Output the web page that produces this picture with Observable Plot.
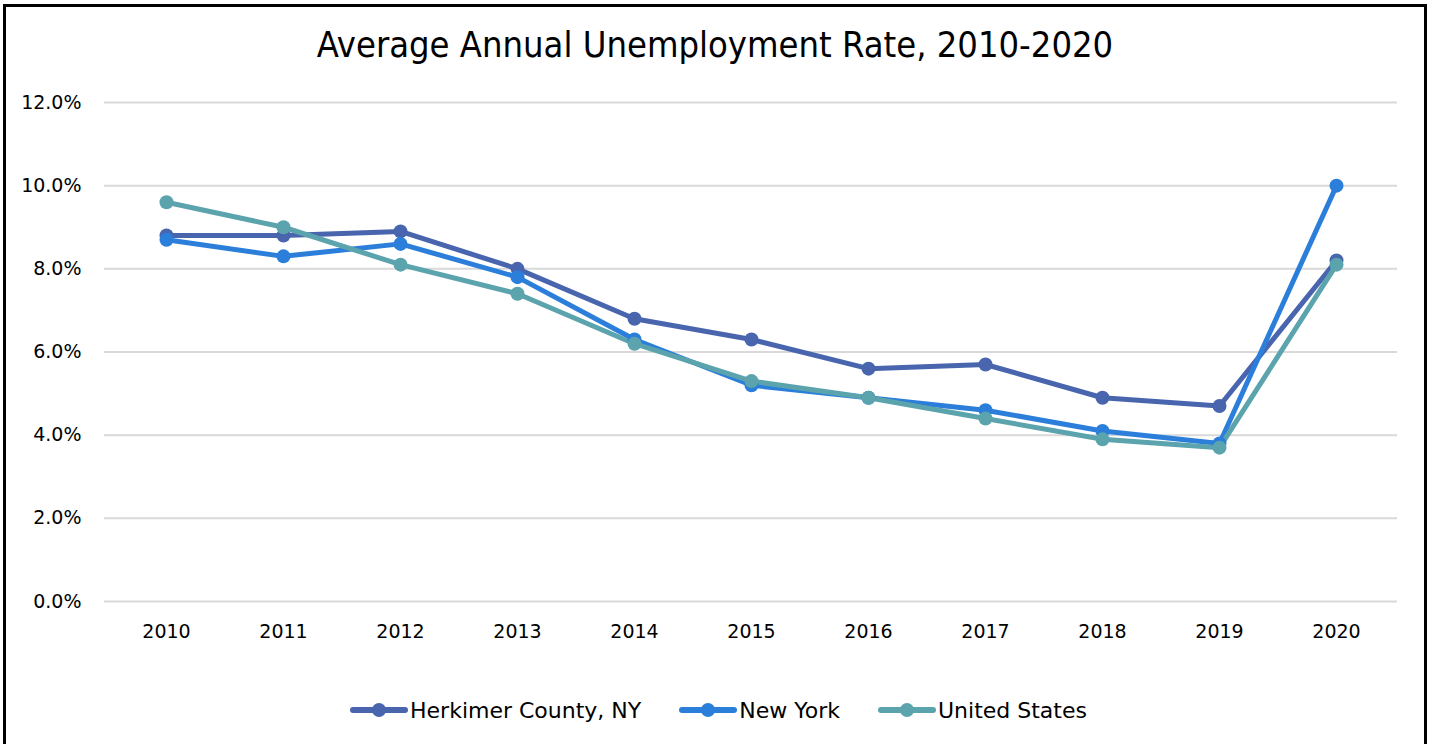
<!DOCTYPE html>
<html>
<head>
<meta charset="utf-8">
<script src="https://cdn.jsdelivr.net/npm/d3@7"></script>
<script src="https://cdn.jsdelivr.net/npm/@observablehq/plot@0.6"></script>
<style>
  html, body { margin: 0; padding: 0; background: #fff; }
  body { width: 1437px; height: 744px; position: relative; overflow: hidden; font-family: "DejaVu Sans", sans-serif; }
  #frame { position: absolute; left: 3px; top: 4px; width: 1424px; height: 760px; border: 3px solid #000; border-bottom: none; box-sizing: border-box; }
  #title { position: absolute; left: 0; top: 24px; width: 1430px; text-align: center; font-family: "DejaVu Sans Condensed", "DejaVu Sans", sans-serif; font-size: 36px; color: #000; }
  #chart { position: absolute; left: 0; top: 0; }
  #legend { position: absolute; top: 696px; left: 0; width: 1437px; display: flex; justify-content: center; font-size: 22px; color: #000; }
  .item { display: flex; align-items: center; margin: 0 19px; }
  .sw { position: relative; width: 58px; height: 28px; margin-right: 2px; }
  .sw .ln { position: absolute; left: 0; right: 0; top: 11px; height: 6px; border-radius: 3px; }
  .sw .dt { position: absolute; left: 22px; top: 7px; width: 14px; height: 14px; border-radius: 50%; }
</style>
</head>
<body>
<div id="frame"></div>
<div id="title">Average Annual Unemployment Rate, 2010-2020</div>
<div id="chart"></div>
<div id="legend"></div>
<script>
const years = ["2010","2011","2012","2013","2014","2015","2016","2017","2018","2019","2020"];
const herkimer = [8.8, 8.8, 8.9, 8.0, 6.8, 6.3, 5.6, 5.7, 4.9, 4.7, 8.2];
const newYork  = [8.7, 8.3, 8.6, 7.8, 6.3, 5.2, 4.9, 4.6, 4.1, 3.8, 10.0];
const unitedStates = [9.6, 9.0, 8.1, 7.4, 6.2, 5.3, 4.9, 4.4, 3.9, 3.7, 8.1];
const seriesNames = ["Herkimer County, NY", "New York", "United States"];
const seriesColors = ["#4865ae", "#2b7fda", "#5ba3ad"];
const yTicks = [0, 2, 4, 6, 8, 10, 12];

const seriesValues = [herkimer, newYork, unitedStates];
const data = [];
seriesNames.forEach((name, i) => {
  years.forEach((y, j) => data.push({series: name, year: y, value: seriesValues[i][j] / 100}));
});
const yTickVals = yTicks.map(d => d / 100);
const pct = d => (d * 100).toFixed(1) + "%";

const chart = Plot.plot({
  width: 1437,
  height: 660,
  marginLeft: 104,
  marginRight: 40,
  marginTop: 102,
  marginBottom: 59,
  style: { fontFamily: "'DejaVu Sans', sans-serif", fontSize: "19px", background: "transparent", color: "#000" },
  x: { type: "point", domain: years, padding: 0.5, label: null },
  y: { domain: [0, 0.12], label: null },
  color: { domain: seriesNames, range: seriesColors },
  marks: [
    Plot.gridY(yTickVals, { stroke: "#d9d9d9", strokeOpacity: 1, strokeWidth: 2 }),
    Plot.axisX({ tickSize: 0, tickPadding: 23, fontSize: 19, label: null }),
    Plot.axisY(yTickVals, { tickSize: 0, tickPadding: 23, fontSize: 19, tickFormat: pct, label: null }),
    Plot.line(data, { x: "year", y: "value", z: "series", stroke: "series", strokeWidth: 5, strokeLinejoin: "round", strokeLinecap: "round" }),
    Plot.dot(data, { x: "year", y: "value", fill: "series", r: 7 })
  ]
});
document.getElementById("chart").appendChild(chart);

const legend = document.getElementById("legend");
seriesNames.forEach((name, i) => {
  const item = document.createElement("div");
  item.className = "item";
  item.innerHTML = `<div class="sw"><div class="ln" style="background:${seriesColors[i]}"></div><div class="dt" style="background:${seriesColors[i]}"></div></div><span>${name}</span>`;
  legend.appendChild(item);
});
</script>
</body>
</html>
